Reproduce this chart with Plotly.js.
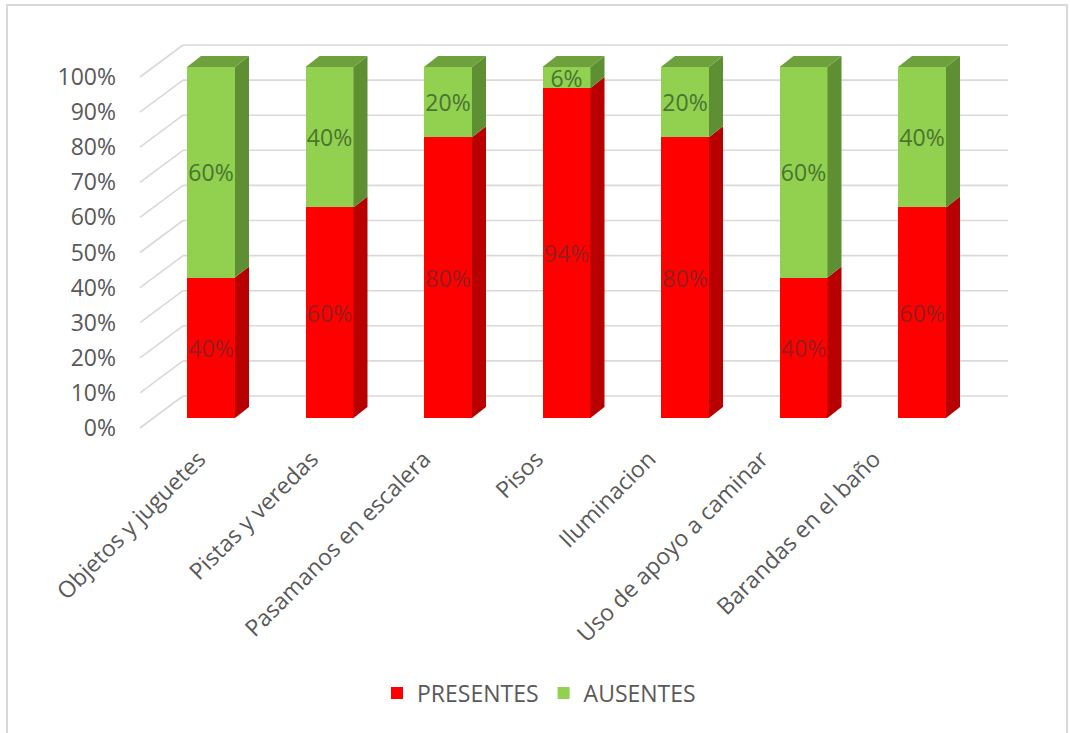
<!DOCTYPE html>
<html>
<head>
<meta charset="utf-8">
<script src="https://cdn.plot.ly/plotly-3.0.1.min.js"></script>
<style>html,body{margin:0;padding:0;background:#fff;}</style>
</head>
<body>
<div id="chart" style="width:1070px;height:733px;"></div>
<script>
const categories = ["Objetos y juguetes", "Pistas y veredas", "Pasamanos en escalera", "Pisos", "Iluminacion", "Uso de apoyo a caminar", "Barandas en el baño"];
const presentes = [40, 60, 80, 94, 80, 40, 60];
const ausentes = [60, 40, 20, 6, 20, 60, 40];
const yTicks = [0, 10, 20, 30, 40, 50, 60, 70, 80, 90, 100];
const yTickText = ["0%", "10%", "20%", "30%", "40%", "50%", "60%", "70%", "80%", "90%", "100%"];

// pixel layout
const W = 1070, H = 733;
const L = 120, R = 1015, T = 40, B = 435;
const pxPerCat = 118.5, x0px = 211;
const pxPerUnit = 3.51, y0px = 418;
const xr0 = (L - x0px) / pxPerCat, xr1 = (R - x0px) / pxPerCat;
const yr0 = (y0px - B) / pxPerUnit, yr1 = (y0px - T) / pxPerUnit;
// category labels sit on the (perspective) floor front edge
const lblPxPerCat = 112.5, lbl0px = 199;
const lr0 = (L - lbl0px) / lblPxPerCat, lr1 = (R - lbl0px) / lblPxPerCat;

const barW = 48 / pxPerCat;
const dx = 14 / pxPerCat, dy = 11 / pxPerUnit;
const wallOff = 22 / pxPerUnit;      // back wall shift
const labelOff = -10 / pxPerUnit;    // tick label shift (floor front edge)
const wallLeft = (183 - x0px) / pxPerCat, wallRight = (1008 - x0px) / pxPerCat;
const diagLeft = (140 - x0px) / pxPerCat;

const xIdx = categories.map((c, i) => i);
const shapes = [];

// back wall gridlines and floor diagonals
yTicks.forEach(v => {
  shapes.push({type: 'line', xref: 'x', yref: 'y', layer: 'below',
    x0: wallLeft, x1: wallRight, y0: v + wallOff, y1: v + wallOff,
    line: {color: '#D9D9D9', width: 1.6}});
  shapes.push({type: 'line', xref: 'x', yref: 'y', layer: 'below',
    x0: diagLeft, x1: wallLeft, y0: v + labelOff, y1: v + wallOff,
    line: {color: '#D9D9D9', width: 1.6}});
});

// 3D side and top faces
function sideFace(i, y0, y1, color) {
  const xr = i + barW / 2;
  shapes.push({type: 'path', xref: 'x', yref: 'y', layer: 'above',
    path: `M ${xr},${y0} L ${xr + dx},${y0 + dy} L ${xr + dx},${y1 + dy} L ${xr},${y1} Z`,
    fillcolor: color, line: {width: 0}});
}
function topFace(i, y, color) {
  const xl = i - barW / 2, xr = i + barW / 2;
  shapes.push({type: 'path', xref: 'x', yref: 'y', layer: 'above',
    path: `M ${xl},${y} L ${xr},${y} L ${xr + dx},${y + dy} L ${xl + dx},${y + dy} Z`,
    fillcolor: color, line: {width: 0}});
}
xIdx.forEach(i => {
  const p = presentes[i], a = ausentes[i];
  sideFace(i, 0, p, '#B80000');
  sideFace(i, p, p + a, '#5F8F33');
  topFace(i, p + a, '#6FA03E');
});

// chart border
shapes.push({type: 'rect', xref: 'paper', yref: 'paper',
  x0: (7 - L) / (R - L), x1: (1067 - L) / (R - L),
  y0: (B - 740) / (B - T), y1: (B - 5) / (B - T),
  line: {color: '#D9D9D9', width: 2}, fillcolor: 'rgba(0,0,0,0)'});

const font = 'Open Sans, sans-serif';
const traces = [
  {type: 'bar', name: 'PRESENTES', x: xIdx, y: presentes, width: barW,
   marker: {color: '#FF0000'},
   text: presentes.map(v => v + '%'), textposition: 'inside', insidetextanchor: 'middle',
   constraintext: 'none', textangle: 0,
   textfont: {family: font, size: 23, color: 'rgba(110,40,40,0.75)'},
   hoverinfo: 'none'},
  {type: 'bar', name: 'AUSENTES', x: xIdx, y: ausentes, width: barW,
   marker: {color: '#92D050'},
   text: ausentes.map(v => v + '%'), textposition: 'inside', insidetextanchor: 'middle',
   constraintext: 'none', textangle: 0,
   textfont: {family: font, size: 23, color: '#4A7530'},
   hoverinfo: 'none'},
  {type: 'scatter', mode: 'markers', x: xIdx, y: presentes, xaxis: 'x2', yaxis: 'y',
   marker: {opacity: 0}, showlegend: false, hoverinfo: 'none'}
];

const layout = {
  width: W, height: H,
  margin: {l: L, r: W - R, t: T, b: H - B, pad: 0},
  paper_bgcolor: '#FFFFFF', plot_bgcolor: 'rgba(0,0,0,0)',
  barmode: 'stack',
  showlegend: true,
  legend: {orientation: 'h', x: (539 - L) / (R - L), xanchor: 'center',
    y: (B - 693) / (B - T), yanchor: 'middle',
    font: {family: font, size: 23, color: '#595959'}, traceorder: 'normal',
    itemwidth: 30},
  xaxis: {range: [xr0, xr1], tickmode: 'array', tickvals: xIdx, showticklabels: false,
    showgrid: false, zeroline: false, showline: false, ticks: '', fixedrange: true},
  xaxis2: {range: [lr0, lr1], overlaying: 'x', anchor: 'y', side: 'bottom',
    tickmode: 'array', tickvals: xIdx, ticktext: categories,
    tickangle: -45, showgrid: false, zeroline: false, showline: false, ticks: '',
    ticklabelstandoff: 5,
    tickfont: {family: font, size: 23, color: '#595959'}, fixedrange: true},
  yaxis: {range: [yr0, yr1], tickmode: 'array', tickvals: yTicks.map(v => v + labelOff),
    ticktext: yTickText, showgrid: false, zeroline: false, showline: false, ticks: '',
    ticklabelstandoff: 3,
    tickfont: {family: font, size: 23, color: '#595959'}, fixedrange: true},
  shapes: shapes
};

Plotly.newPlot('chart', traces, layout, {displayModeBar: false, staticPlot: true});
</script>
</body>
</html>
